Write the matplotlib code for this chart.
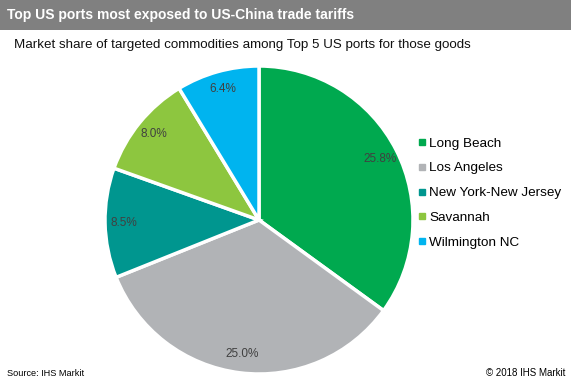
import matplotlib.pyplot as plt
from matplotlib.patches import Rectangle
from matplotlib.lines import Line2D

plt.rcParams['font.family'] = ['Liberation Sans', 'DejaVu Sans']

ports = ['Long Beach', 'Los Angeles', 'New York-New Jersey', 'Savannah', 'Wilmington NC']
shares = [25.8, 25.0, 8.5, 8.0, 6.4]
colors = ['#00A94F', '#B1B3B6', '#00968F', '#8DC63F', '#00B4EF']

W, H = 571, 384
fig = plt.figure(figsize=(W / 100, H / 100), dpi=100)

# title bar
fig.add_artist(Rectangle((0, 1 - 30 / H), 1, 30 / H, transform=fig.transFigure,
                         facecolor='#808080', edgecolor='none'))
fig.text(7 / W, 1 - 15 / H, 'Top US ports most exposed to US-China trade tariffs',
         color='white', fontsize=10, fontweight='bold', va='center', ha='left')
fig.text(14 / W, 1 - 45 / H,
         'Market share of targeted commodities among Top 5 US ports for those goods',
         fontsize=9.6, va='center', ha='left', color='#111111')
fig.text(7 / W, 1 - 373 / H, 'Source: IHS Markit', fontsize=6.6, va='center', ha='left')
fig.text(565 / W, 1 - 373 / H, '\u00a9 2018 IHS Markit', fontsize=7, va='center', ha='right')

# pie axes: center (259, 220), radius 154 px
r = 154
cx, cy = 259, 220
ax = fig.add_axes([(cx - r) / W, 1 - (cy + r) / H, 2 * r / W, 2 * r / H])
total = sum(shares)
wedges, _, autotexts = ax.pie(shares, colors=colors, startangle=90, counterclock=False,
                              autopct=lambda p: f'{p * total / 100:.1f}%', pctdistance=0.88,
                              wedgeprops=dict(edgecolor='white', linewidth=2.5),
                              textprops=dict(fontsize=8.5, color='#404040'))
ax.set_xlim(-1, 1)
ax.set_ylim(-1, 1)
ax.set_aspect('equal')

handles = [Line2D([], [], marker='s', linestyle='none', markersize=4,
                  markerfacecolor=c, markeredgecolor=c) for c in colors]
fig.legend(handles, ports, loc='center left', bbox_to_anchor=(413 / W, 1 - 193 / H),
           frameon=False, fontsize=9.7, handlelength=0.6, handletextpad=0.2,
           labelspacing=0.92, borderaxespad=0)

fig.savefig('out.png', dpi=100)
